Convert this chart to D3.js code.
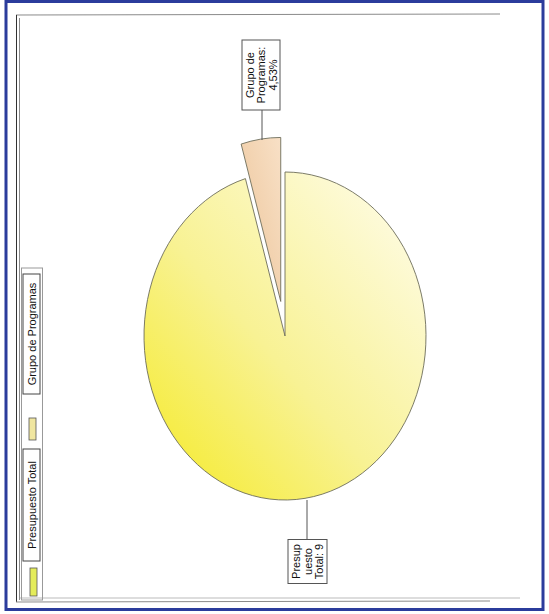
<!DOCTYPE html>
<html><head><meta charset="utf-8">
<script src="https://cdn.jsdelivr.net/npm/d3@7"></script>
<style>html,body{margin:0;padding:0;background:#fff;}svg{display:block;}</style>
</head><body>
<script>
const categories = ["Presupuesto Total", "Grupo de Programas"];
const values = [95.47, 4.53];
const labelLines = [["Presup", "uesto", "Total: 9"], ["Grupo de", "Programas:", "4,53%"]];

const W = 549, H = 614;
const svg = d3.select("body").append("svg").attr("width", W).attr("height", H);
const defs = svg.append("defs");
const g1 = defs.append("linearGradient").attr("id", "gMain").attr("x1", 0).attr("y1", 1).attr("x2", 1).attr("y2", 0);
g1.append("stop").attr("offset", "0%").attr("stop-color", "#f5ea22");
g1.append("stop").attr("offset", "45%").attr("stop-color", "#f8f294");
g1.append("stop").attr("offset", "100%").attr("stop-color", "#fffdf0");
const g2 = defs.append("linearGradient").attr("id", "gSmall").attr("x1", 0).attr("y1", 1).attr("x2", 1).attr("y2", 0);
g2.append("stop").attr("offset", "0%").attr("stop-color", "#ecc498");
g2.append("stop").attr("offset", "100%").attr("stop-color", "#f8e0c6");
const fills = ["url(#gMain)", "url(#gSmall)"];

// frames
svg.append("rect").attr("x", 6).attr("y", 1.5).attr("width", 537).attr("height", 608)
  .attr("fill", "none").attr("stroke", "#2b3c9c").attr("stroke-width", 3);
const fr = svg.append("g").attr("fill", "none").attr("stroke", "#8a8a8a");
fr.append("line").attr("x1", 16).attr("y1", 15).attr("x2", 500).attr("y2", 14).attr("stroke-width", 1);
fr.append("line").attr("x1", 16.5).attr("y1", 15).attr("x2", 16.5).attr("y2", 602).attr("stroke", "#333").attr("stroke-width", 1);
fr.append("line").attr("x1", 19.5).attr("y1", 18).attr("x2", 19.5).attr("y2", 600).attr("stroke-width", 1);
fr.append("line").attr("x1", 16).attr("y1", 602).attr("x2", 490).attr("y2", 601).attr("stroke-width", 1);
fr.append("line").attr("x1", 20).attr("y1", 598).attr("x2", 520).attr("y2", 598).attr("stroke", "#bbb").attr("stroke-width", 1);

// pie
const cx = 285, cy = 336, rx = 141, ry = 164;
const pie = d3.pie().sort(null).startAngle(0).endAngle(2 * Math.PI);
const arcs = pie(values);
const arc = d3.arc().innerRadius(0).outerRadius(rx);
const explode = [0, 30];
const pg = svg.append("g").attr("transform", `translate(${cx},${cy}) scale(1,${ry / rx})`);
arcs.forEach((a, i) => {
  const mid = (a.startAngle + a.endAngle) / 2;
  const dx = explode[i] * Math.sin(mid), dy = -explode[i] * Math.cos(mid);
  pg.append("path").attr("d", arc(a)).attr("transform", `translate(${dx},${dy})`)
    .attr("fill", fills[i]).attr("stroke", "#6d6d5a").attr("stroke-width", 0.9)
    .attr("vector-effect", "non-scaling-stroke");
});

// labels
function labelBox(x, y, len, thick, lines) {
  const g = svg.append("g").attr("transform", `translate(${x},${y}) rotate(-90)`);
  g.append("rect").attr("x", -len / 2).attr("y", -thick / 2).attr("width", len).attr("height", thick)
    .attr("fill", "#fff").attr("stroke", "#555").attr("stroke-width", 1);
  const n = lines.length, sp = 11.5;
  lines.forEach((t, k) => {
    g.append("text").attr("x", 0).attr("y", (k - (n - 1) / 2) * sp)
      .attr("dominant-baseline", "central").attr("text-anchor", "middle")
      .attr("font-family", "Liberation Sans, Arial, sans-serif").attr("font-size", 11)
      .attr("fill", "#111").text(t);
  });
}
// leader lines
svg.append("line").attr("x1", 262).attr("y1", 110).attr("x2", 262).attr("y2", 140).attr("stroke", "#555");
svg.append("line").attr("x1", 307).attr("y1", 500).attr("x2", 307).attr("y2", 540).attr("stroke", "#555");
labelBox(261, 75, 70, 38, labelLines[1]);
labelBox(307.5, 561.5, 44, 39, labelLines[0]);

// legend
svg.append("rect").attr("x", 21.5).attr("y", 268).attr("width", 21).attr("height", 332)
  .attr("fill", "none").attr("stroke", "#999");
const legItems = [
  { sw: [30, 568, 7, 28], box: [31.5, 505, 112, 17], fill: "#e4ec5a" },
  { sw: [29, 418, 7, 22], box: [31.5, 334, 120, 17], fill: "#f0e6a0" }
];
legItems.forEach((it, i) => {
  svg.append("rect").attr("x", it.sw[0]).attr("y", it.sw[1]).attr("width", it.sw[2]).attr("height", it.sw[3])
    .attr("fill", it.fill).attr("stroke", "#555").attr("stroke-width", 0.8);
  const g = svg.append("g").attr("transform", `translate(${it.box[0]},${it.box[1]}) rotate(-90)`);
  g.append("rect").attr("x", -it.box[2] / 2).attr("y", -it.box[3] / 2).attr("width", it.box[2]).attr("height", it.box[3])
    .attr("fill", "#fff").attr("stroke", "#444");
  g.append("text").attr("x", 0).attr("y", 0.5).attr("dominant-baseline", "central").attr("text-anchor", "middle")
    .attr("font-family", "Liberation Sans, Arial, sans-serif").attr("font-size", 11).attr("fill", "#111")
    .text(categories[i]);
});
</script>
</body></html>
